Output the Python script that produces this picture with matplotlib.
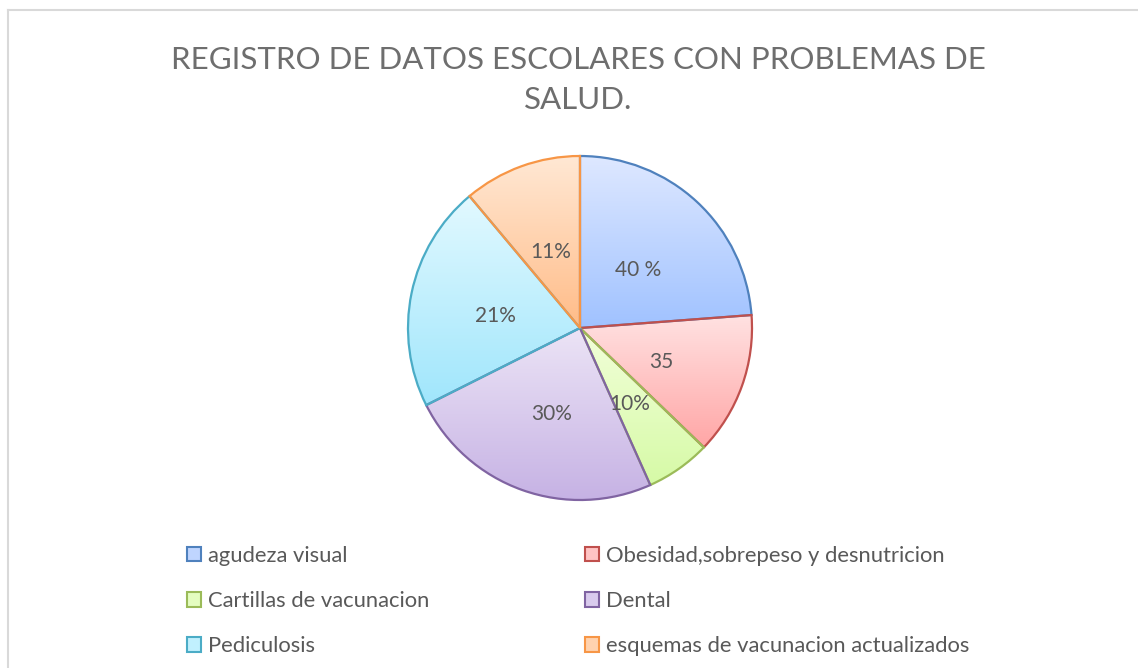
import matplotlib
matplotlib.use("Agg")
import matplotlib.pyplot as plt
import numpy as np
from matplotlib.patches import Patch
from matplotlib.lines import Line2D

plt.rcParams['font.family'] = ['Lato', 'DejaVu Sans']

# datos (tamaños de las rebanadas)
categorias = ["agudeza visual", "Obesidad,sobrepeso y desnutricion",
              "Cartillas de vacunacion", "Dental", "Pediculosis",
              "esquemas de vacunacion actualizados"]
valores = [23.8, 13.4, 6.1, 24.3, 21.3, 11.1]
etiquetas = ["40 %", "35", "10%", "30%", "21%", "11%"]

bordes = ["#4F81BD", "#C0504D", "#9BBB59", "#8064A2", "#4BACC6", "#F79646"]
arriba = [(222, 232, 255), (255, 226, 226), (242, 255, 218), (236, 228, 246), (226, 249, 255), (255, 232, 212)]
abajo = [(160, 194, 255), (255, 166, 166), (214, 250, 166), (198, 178, 228), (160, 230, 252), (255, 188, 136)]
medio = [tuple((a + b) / 2 / 255 for a, b in zip(t, u)) for t, u in zip(arriba, abajo)]

gris = "#595959"

fig = plt.figure(figsize=(11.38, 6.68), dpi=100)

# marco
fig.add_artist(Line2D([8 / 1138, 8 / 1138], [0, 1 - 10 / 668], color="#D9D9D9", lw=1.5))
fig.add_artist(Line2D([8 / 1138, 1], [1 - 10 / 668, 1 - 10 / 668], color="#D9D9D9", lw=1.5))

fig.text(578 / 1138, 1 - 60 / 668, "REGISTRO DE DATOS ESCOLARES CON PROBLEMAS DE",
         ha="center", va="center", fontsize=22.5, color="#6e6e6e")
fig.text(578 / 1138, 1 - 100 / 668, "SALUD.",
         ha="center", va="center", fontsize=22.5, color="#6e6e6e")

cx, cy, r = 580, 328, 172
half = 200
ax = fig.add_axes([(cx - half) / 1138, (668 - cy - half) / 668, 2 * half / 1138, 2 * half / 668])

wedges, _ = ax.pie(valores, startangle=90, counterclock=False, colors=medio,
                   wedgeprops=dict(edgecolor="none", linewidth=1.6))

# leyenda por filas: se reordena para que ncol=2 llene fila por fila
orden = [0, 2, 4, 1, 3, 5]
handles = [Patch(facecolor=medio[i], edgecolor=bordes[i], linewidth=1.5) for i in orden]
fig.legend(handles, [categorias[i] for i in orden], loc="upper left",
           bbox_to_anchor=(178 / 1138, 1 - 537 / 668),
           ncol=2, frameon=False, fontsize=15.8, labelcolor=gris,
           handlelength=0.65, handleheight=0.65, handletextpad=0.3,
           columnspacing=7.1, labelspacing=1.15, borderaxespad=0)

for i, w in enumerate(wedges):
    bb = w.get_path().get_extents(w.get_patch_transform())
    n = 256
    t = np.linspace(0, 1, n)[:, None]
    grad = (np.array(arriba[i]) * (1 - t) + np.array(abajo[i]) * t) / 255
    img = ax.imshow(grad[:, None, :], extent=[bb.x0, bb.x1, bb.y0, bb.y1],
                    origin="upper", aspect="auto", zorder=1, interpolation="bilinear")
    img.set_clip_path(w)
    w.set_facecolor("none")
    w.set_edgecolor(bordes[i])
    w.set_zorder(2)
    mid = np.deg2rad((w.theta1 + w.theta2) / 2)
    ax.text(0.5 * np.cos(mid), 0.5 * np.sin(mid) - 0.03, etiquetas[i], ha="center", va="center",
            fontsize=15, color=gris, zorder=3)

lim = half / r
ax.set_xlim(-lim, lim)
ax.set_ylim(-lim, lim)
ax.set_aspect("equal")
ax.axis("off")

fig.savefig("out.png", dpi=100)
